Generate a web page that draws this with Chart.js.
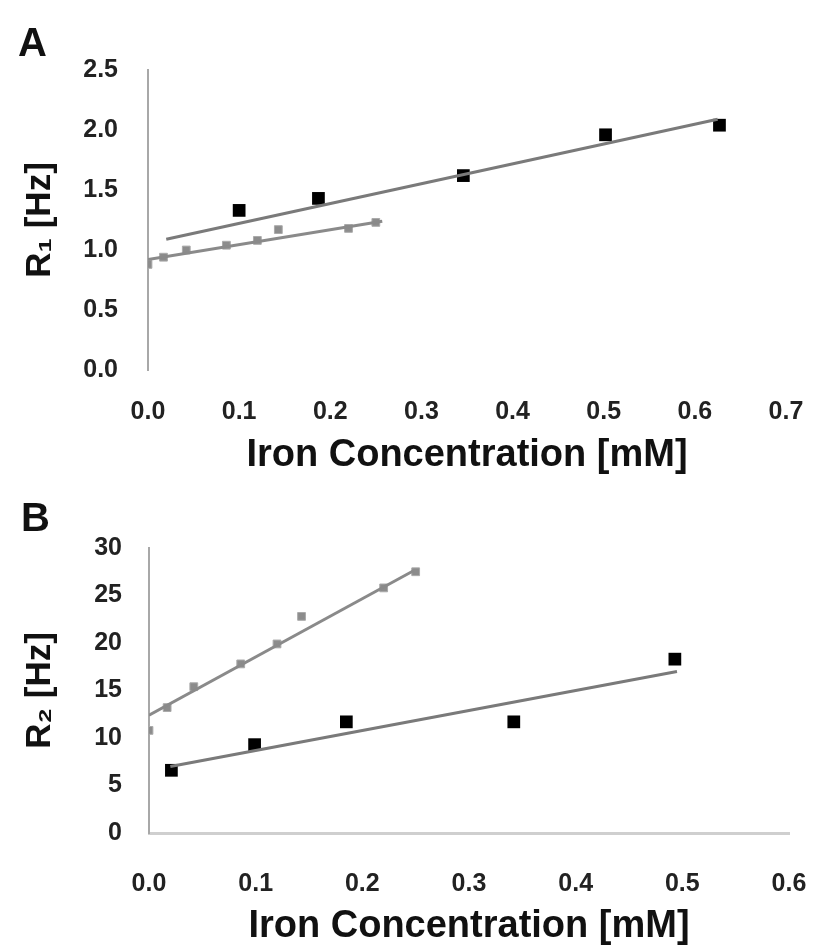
<!DOCTYPE html>
<html>
<head>
<meta charset="utf-8">
<script src="https://cdn.jsdelivr.net/npm/chart.js@4"></script>
<style>
  body { margin: 0; background: #fff; width: 813px; height: 951px; position: relative; overflow: hidden; font-family: "Liberation Sans", Arial, sans-serif; }
  .box { position: absolute; left: 0; width: 813px; }
  .panel { position: absolute; font-weight: bold; font-size: 40px; line-height: 46px; color: #111; }
</style>
</head>
<body>
<div class="box" style="top:0;height:476px"><canvas id="chartA"></canvas></div>
<div class="box" style="top:480px;height:471px"><canvas id="chartB"></canvas></div>
<div class="panel" style="left:18px;top:19px">A</div>
<div class="panel" style="left:21px;top:494px">B</div>
<script>
// panel A : R1 relaxation rate
const concA_black = [0.1, 0.187, 0.346, 0.502, 0.627];
const r1_black = [1.33, 1.43, 1.62, 1.96, 2.04];
const concA_gray = [0.0, 0.017, 0.042, 0.086, 0.12, 0.143, 0.22, 0.25];
const r1_gray = [0.88, 0.94, 1.0, 1.04, 1.08, 1.17, 1.18, 1.23];
// fitted lines (end points)
const fitA_black_x = [0.02, 0.625];
const fitA_black_y = [1.09, 2.09];
const fitA_gray_x = [0.0, 0.257];
const fitA_gray_y = [0.92, 1.24];
const xTicksA = [0, 0.1, 0.2, 0.3, 0.4, 0.5, 0.6, 0.7];
const xLabelsA = ['0.0', '0.1', '0.2', '0.3', '0.4', '0.5', '0.6', '0.7'];
const yTicksA = [0, 0.5, 1.0, 1.5, 2.0, 2.5];
const yLabelsA = ['0.0', '0.5', '1.0', '1.5', '2.0', '2.5'];

// panel B : R2 relaxation rate
const concB_black = [0.021, 0.099, 0.185, 0.342, 0.493];
const r2_black = [6.6, 9.3, 11.7, 11.7, 18.3];
const concB_gray = [0.0, 0.017, 0.042, 0.086, 0.12, 0.143, 0.22, 0.25];
const r2_gray = [10.8, 13.2, 15.4, 17.8, 19.9, 22.8, 25.8, 27.5];
const fitB_black_x = [0.02, 0.495];
const fitB_black_y = [7.0, 17.0];
const fitB_gray_x = [0.0, 0.248];
const fitB_gray_y = [12.4, 27.6];
const xTicksB = [0, 0.1, 0.2, 0.3, 0.4, 0.5, 0.6];
const xLabelsB = ['0.0', '0.1', '0.2', '0.3', '0.4', '0.5', '0.6'];
const yTicksB = [0, 5, 10, 15, 20, 25, 30];
const yLabelsB = ['0', '5', '10', '15', '20', '25', '30'];

const FONT = '"Liberation Sans", Arial, sans-serif';

function pts(xs, ys) {
  return xs.map((x, i) => ({ x: x, y: ys[i] }));
}

function datasets(bx, by, gx, gy, fbx, fby, fgx, fgy) {
  return [
    { data: pts(fgx, fgy), showLine: true, borderColor: '#8a8a8a', borderWidth: 3, pointRadius: 0 },
    { data: pts(fbx, fby), showLine: true, borderColor: '#7a7a7a', borderWidth: 3, pointRadius: 0 },
    { data: pts(gx, gy), pointStyle: 'rect', pointRadius: 5.5, backgroundColor: '#8c8c8c', borderColor: '#aaaaaa', borderWidth: 1 },
    { data: pts(bx, by), pointStyle: 'rect', pointRadius: 9, backgroundColor: '#000', borderColor: '#000', borderWidth: 0 }
  ];
}

function makeChart(id, cfg) {
  return new Chart(document.getElementById(id), {
    type: 'scatter',
    data: { datasets: cfg.datasets },
    options: {
      responsive: true,
      maintainAspectRatio: false,
      animation: false,
      layout: { padding: { top: cfg.padTop, right: cfg.padRight, left: 0, bottom: 0 } },
      plugins: { legend: { display: false }, tooltip: { enabled: false } },
      scales: {
        x: {
          type: 'linear',
          min: cfg.xTicks[0],
          max: cfg.xTicks[cfg.xTicks.length - 1],
          afterBuildTicks: s => { s.ticks = cfg.xTicks.map(v => ({ value: v })); },
          afterFit: s => { s.height = cfg.xHeight; s.paddingLeft = 0; s.paddingRight = 0; },
          grid: { display: false, drawTicks: false },
          border: { display: cfg.xBorder, color: '#cfcfcf', width: 3 },
          ticks: {
            padding: cfg.xPad,
            color: '#222',
            font: { family: FONT, size: 25, weight: 'bold' },
            callback: (v, i) => cfg.xLabels[i]
          },
          title: {
            display: true,
            text: 'Iron Concentration [mM]',
            color: '#111',
            font: { family: FONT, size: 38, weight: 'bold' },
            padding: { top: 0, bottom: cfg.xTitlePad }
          }
        },
        y: {
          type: 'linear',
          min: cfg.yTicks[0],
          max: cfg.yTicks[cfg.yTicks.length - 1],
          afterBuildTicks: s => { s.ticks = cfg.yTicks.map(v => ({ value: v })); },
          afterFit: s => { s.width = cfg.yWidth; s.paddingTop = 0; s.paddingBottom = 0; },
          grid: { display: false, drawTicks: false },
          border: { display: true, color: '#a8a8a8', width: 2 },
          ticks: {
            padding: cfg.yPad,
            color: '#222',
            font: { family: FONT, size: 25, weight: 'bold' },
            callback: (v, i) => cfg.yLabels[i]
          },
          title: {
            display: true,
            text: cfg.yTitle,
            color: '#111',
            font: { family: FONT, size: 35, weight: 'bold' },
            padding: { top: 19, bottom: 0 }
          }
        }
      }
    }
  });
}

makeChart('chartA', {
  datasets: datasets(concA_black, r1_black, concA_gray, r1_gray, fitA_black_x, fitA_black_y, fitA_gray_x, fitA_gray_y),
  xTicks: xTicksA, xLabels: xLabelsA, yTicks: yTicksA, yLabels: yLabelsA,
  padTop: 70, padRight: 27, xHeight: 106, yWidth: 148,
  xPad: 27, yPad: 30, xTitlePad: -2, xBorder: false,
  yTitle: 'R\u2081 [Hz]'
});

makeChart('chartB', {
  datasets: datasets(concB_black, r2_black, concB_gray, r2_gray, fitB_black_x, fitB_black_y, fitB_gray_x, fitB_gray_y),
  xTicks: xTicksB, xLabels: xLabelsB, yTicks: yTicksB, yLabels: yLabelsB,
  padTop: 68, padRight: 24, xHeight: 118, yWidth: 149,
  xPad: 36, yPad: 27, xTitlePad: 2, xBorder: true,
  yTitle: 'R\u2082 [Hz]'
});
</script>
</body>
</html>
